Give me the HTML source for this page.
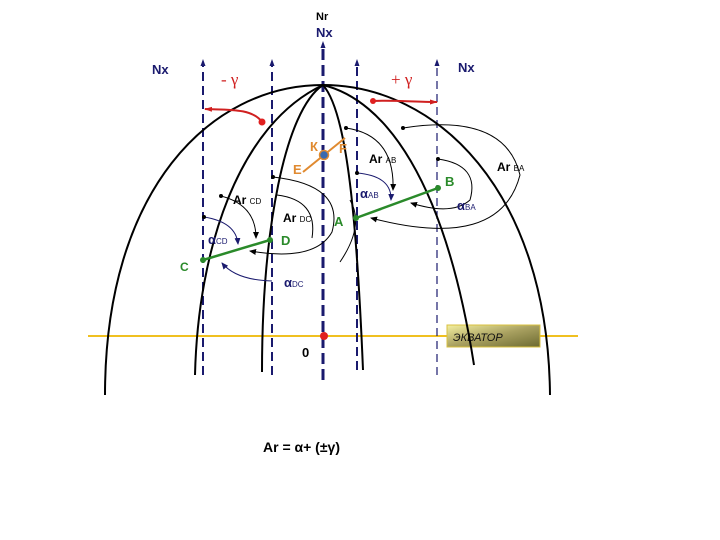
<!DOCTYPE html>
<html><head><meta charset="utf-8"><style>
html,body{margin:0;padding:0;background:#fff;}
svg{display:block;font-family:"Liberation Sans",sans-serif;}
</style></head><body>
<svg width="720" height="540" viewBox="0 0 720 540" xmlns="http://www.w3.org/2000/svg">
<defs>
<marker id="nv" markerUnits="userSpaceOnUse" markerWidth="7" markerHeight="8" refX="3" refY="4" orient="auto"><path d="M0,1.5 L7,4 L0,6.5z" fill="#1a1a6e"/></marker>
<marker id="bk" markerUnits="userSpaceOnUse" markerWidth="7" markerHeight="7" refX="6" refY="3.5" orient="auto"><path d="M0,0.5 L7,3.5 L0,6.5z" fill="#000"/></marker>
<marker id="bl" markerUnits="userSpaceOnUse" markerWidth="7" markerHeight="7" refX="6" refY="3.5" orient="auto"><path d="M0,0.5 L7,3.5 L0,6.5z" fill="#1a1a6e"/></marker>
<marker id="rd" markerUnits="userSpaceOnUse" markerWidth="8" markerHeight="8" refX="7" refY="4" orient="auto"><path d="M0,1.5 L8,4 L0,6.5z" fill="#d02020"/></marker>
<linearGradient id="eg" x1="0" y1="0" x2="1" y2="1"><stop offset="0" stop-color="#f4f0a0"/><stop offset="0.5" stop-color="#a8a060"/><stop offset="1" stop-color="#6c6a30"/></linearGradient>
</defs>
<line x1="88" y1="336" x2="578" y2="336" stroke="#f0c020" stroke-width="2"/>
<rect x="447" y="325" width="93" height="22" fill="url(#eg)" stroke="#d8c040" stroke-width="1"/>
<text x="453" y="341" font-size="11" font-style="italic" fill="#111">ЭКВАТОР</text>
<g stroke="#1a1a6e" fill="none">
<line x1="203" y1="375" x2="203" y2="63" stroke-width="2" stroke-dasharray="9,5" marker-end="url(#nv)"/>
<line x1="272" y1="375" x2="272" y2="63" stroke-width="2" stroke-dasharray="9,5" marker-end="url(#nv)"/>
<line x1="323" y1="380" x2="323" y2="45" stroke-width="3" stroke-dasharray="11,5" marker-end="url(#nv)"/>
<line x1="357" y1="370" x2="357" y2="63" stroke-width="2" stroke-dasharray="9,5" marker-end="url(#nv)"/>
<line x1="437" y1="375" x2="437" y2="63" stroke-width="1.2" stroke-dasharray="8,5" marker-end="url(#nv)"/>
</g>
<g stroke="#000" stroke-width="2" fill="none">
<path d="M105,395 C105,190 210,85 323,85 C436,85 548,190 550,395"/>
<path d="M195,375 C198,250 238,125 323,85"/>
<path d="M262,372 C262,230 285,110 323,85"/>
<path d="M323,85 C345,110 356,200 363,370"/>
<path d="M323,85 C385,100 445,180 474,365"/>
</g>
<path d="M262,122 C252,108 228,110 205,109" stroke="#d02020" stroke-width="2" fill="none" marker-end="url(#rd)"/>
<circle cx="262" cy="122" r="3.5" fill="#e02020"/>
<path d="M373,101 C395,100 415,102 437,102" stroke="#d02020" stroke-width="2" fill="none" marker-end="url(#rd)"/>
<circle cx="373" cy="101" r="3" fill="#e02020"/>
<g fill="none" stroke-width="1">
<path d="M221,196 Q256,205 256,238" stroke="#000" marker-end="url(#bk)"/>
<path d="M204,217 Q236,222 238,244" stroke="#1a1a6e" marker-end="url(#bl)"/>
<path d="M273,177 Q345,185 332,232 Q315,262 250,251" stroke="#000" marker-end="url(#bk)"/>
<path d="M277,195 Q318,200 312,238" stroke="#000"/>
<path d="M272,281 Q236,280 222,263" stroke="#1a1a6e" marker-end="url(#bl)"/>
<path d="M346,128 Q395,135 393,190" stroke="#000" marker-end="url(#bk)"/>
<path d="M357,173 Q392,176 391,200" stroke="#1a1a6e" marker-end="url(#bl)"/>
<path d="M403,128 Q505,112 520,175 Q500,252 371,218" stroke="#000" marker-end="url(#bk)"/>
<path d="M438,159 Q480,165 470,200 Q452,216 411,203" stroke="#000" marker-end="url(#bk)"/>
<path d="M350,200 Q365,225 340,262" stroke="#000"/>
</g>
<g fill="#000"><circle cx="221" cy="196" r="2"/><circle cx="273" cy="177" r="2"/><circle cx="346" cy="128" r="2"/><circle cx="403" cy="128" r="2"/><circle cx="438" cy="159" r="2"/><circle cx="204" cy="217" r="2"/><circle cx="357" cy="173" r="2"/></g>
<line x1="203" y1="260" x2="270" y2="240" stroke="#2a8a2a" stroke-width="2.5"/>
<line x1="356" y1="218" x2="438" y2="188" stroke="#2a8a2a" stroke-width="2.5"/>
<g fill="#2a8a2a"><circle cx="203" cy="260" r="3"/><circle cx="270" cy="240" r="3"/><circle cx="356" cy="218" r="3"/><circle cx="438" cy="188" r="3"/></g>
<line x1="303" y1="172" x2="345" y2="138" stroke="#e08a30" stroke-width="2"/>
<circle cx="324" cy="155" r="4.5" fill="#3a6ab0" stroke="#e08a30" stroke-width="1.5"/>
<circle cx="324" cy="336" r="4" fill="#e02020"/>
<g font-size="13" font-weight="bold">
<text x="316" y="20" font-size="11" fill="#000">Nr</text>
<text x="316" y="37" fill="#1a1a6e">Nx</text>
<text x="152" y="74" fill="#1a1a6e">Nx</text>
<text x="458" y="72" fill="#1a1a6e">Nx</text>
<text x="221" y="85" fill="#d02020" font-size="17" font-weight="normal" font-family="Liberation Serif, serif">- γ</text>
<text x="391" y="85" fill="#d02020" font-size="17" font-weight="normal" font-family="Liberation Serif, serif">+ γ</text>
<text x="310" y="151" fill="#e08a30">К</text>
<text x="339" y="153" fill="#e08a30">F</text>
<text x="293" y="174" fill="#e08a30">E</text>
<text x="369" y="163" fill="#000" font-size="12">Ar <tspan font-size="8" font-weight="normal">AB</tspan></text>
<text x="497" y="171" fill="#000" font-size="12">Ar <tspan font-size="8" font-weight="normal">BA</tspan></text>
<text x="233" y="204" fill="#000" font-size="12">Ar <tspan font-size="8" font-weight="normal">CD</tspan></text>
<text x="283" y="222" fill="#000" font-size="12">Ar <tspan font-size="8" font-weight="normal">DC</tspan></text>
<text x="360" y="198" fill="#1a1a6e">α<tspan font-size="8" font-weight="normal">AB</tspan></text>
<text x="457" y="210" fill="#1a1a6e">α<tspan font-size="8" font-weight="normal">BA</tspan></text>
<text x="208" y="244" fill="#1a1a6e">α<tspan font-size="8" font-weight="normal">CD</tspan></text>
<text x="284" y="287" fill="#1a1a6e">α<tspan font-size="8" font-weight="normal">DC</tspan></text>
<text x="445" y="186" fill="#2a8a2a">B</text>
<text x="334" y="226" fill="#2a8a2a">A</text>
<text x="281" y="245" fill="#2a8a2a">D</text>
<text x="180" y="271" fill="#2a8a2a" font-size="12">C</text>
<text x="302" y="357" fill="#000" font-size="13">0</text>
<text x="263" y="452" fill="#000" font-size="14">Ar = α+ (±γ)</text>
</g>
</svg>
</body></html>
